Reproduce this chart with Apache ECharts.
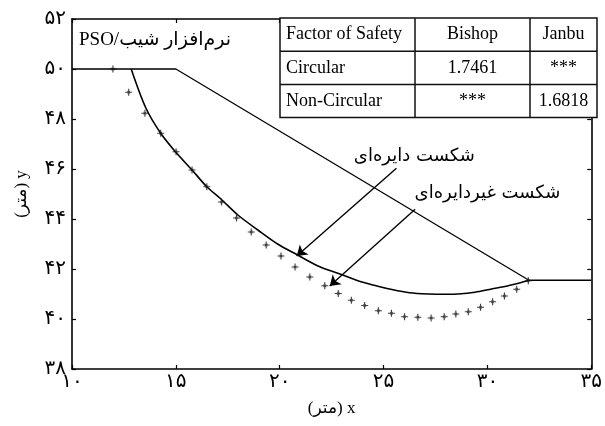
<!DOCTYPE html>
<html>
<head>
<meta charset="utf-8">
<script src="https://cdn.jsdelivr.net/npm/echarts@6/dist/echarts.min.js"></script>
<style>
  html, body { margin: 0; padding: 0; background: #fff; }
  #main { width: 605px; height: 426px; }
</style>
</head>
<body>
<div id="main"></div>
<script>
// Axis ticks (metres)
const xTicks = [10, 15, 20, 25, 30, 35];
const yTicks = [38, 40, 42, 44, 46, 48, 50, 52];

// Slope ground profile: crest, toe, toe berm
const groundX = [10, 15, 32, 35];
const groundY = [50, 50, 41.55, 41.55];

// Critical circular slip surface (Bishop)
const circX = [12.85, 13.55, 14.27, 14.98, 15.78, 16.49, 17.13, 18.0, 18.95, 19.9, 20.86, 21.9, 22.9, 23.8, 24.5, 25.4, 26.25, 27.2, 28.0, 28.6, 29.4, 30.2, 31.0, 31.5, 32.0];
const circY = [50.0, 48.45, 47.43, 46.69, 45.96, 45.29, 44.83, 44.15, 43.56, 43.0, 42.56, 42.1, 41.8, 41.52, 41.36, 41.18, 41.05, 41.0, 40.99, 41.0, 41.07, 41.2, 41.33, 41.43, 41.55];

// Critical non-circular slip surface (Janbu), PSO search points
const nonCircX = [11.97, 12.73, 13.51, 14.27, 15.01, 15.78, 16.49, 17.2, 17.92, 18.63, 19.35, 20.06, 20.74, 21.45, 22.17, 22.82, 23.45, 24.09, 24.75, 25.38, 26.01, 26.65, 27.29, 27.92, 28.48, 29.08, 29.67, 30.25, 30.82, 31.41, 31.97];
const nonCircY = [50.0, 49.07, 48.23, 47.43, 46.69, 45.96, 45.29, 44.68, 44.04, 43.48, 42.96, 42.52, 42.08, 41.68, 41.33, 41.02, 40.75, 40.54, 40.33, 40.23, 40.09, 40.07, 40.04, 40.09, 40.2, 40.29, 40.47, 40.69, 40.92, 41.19, 41.53];

// Factor of safety summary
const tableHeader = ['Factor of Safety', 'Bishop', 'Janbu'];
const tableRows = [
  ['Circular', '1.7461', '***'],
  ['Non-Circular', '***', '1.6818']
];

const titleText = 'PSO/نرم\u200cافزار شیب';
const circLabel = 'شکست دایره\u200cای';
const nonCircLabel = 'شکست غیردایره\u200cای';
const xName = '(متر) x';
const yName = '(متر) y';

const persianDigits = '۰۱۲۳۴۵۶۷۸۹';
function toPersian(n) {
  return String(n).replace(/\d/g, d => persianDigits[+d]);
}

const zip = (xs, ys) => xs.map((x, i) => [x, ys[i]]);

const chart = echarts.init(document.getElementById('main'), null, { renderer: 'canvas' });

const LATIN = 'Liberation Serif';
const FA = 'DejaVu Sans';
const axisLineStyle = { color: '#000', width: 1.6 };

function baseAxis(ticks) {
  return {
    type: 'value',
    min: ticks[0],
    max: ticks[ticks.length - 1],
    interval: ticks[1] - ticks[0],
    splitLine: { show: false },
    axisLine: { show: true, onZero: false, lineStyle: axisLineStyle },
    axisTick: { show: true, inside: true, length: 4, lineStyle: { color: '#000', width: 1.2 } }
  };
}

// Table geometry (pixels)
const tbl = { left: 280, top: 18, colW: [135, 115, 67], rowH: 33.2 };
function tableGraphics() {
  const els = [];
  const totalW = tbl.colW.reduce((a, b) => a + b, 0);
  const rows = [tableHeader].concat(tableRows);
  const totalH = tbl.rowH * rows.length;
  els.push({ type: 'rect', shape: { x: tbl.left, y: tbl.top, width: totalW, height: totalH },
    style: { fill: '#fff', stroke: '#111', lineWidth: 1.5 }, z: 100 });
  for (let r = 1; r < rows.length; r++) {
    const y = tbl.top + r * tbl.rowH;
    els.push({ type: 'line', shape: { x1: tbl.left, y1: y, x2: tbl.left + totalW, y2: y },
      style: { stroke: '#111', lineWidth: 1.5 }, z: 101 });
  }
  let cx = tbl.left;
  for (let c = 0; c < tbl.colW.length - 1; c++) {
    cx += tbl.colW[c];
    els.push({ type: 'line', shape: { x1: cx, y1: tbl.top, x2: cx, y2: tbl.top + totalH },
      style: { stroke: '#111', lineWidth: 1.5 }, z: 101 });
  }
  rows.forEach((row, r) => {
    const yMid = tbl.top + (r + 0.5) * tbl.rowH;
    let x0 = tbl.left;
    row.forEach((cell, c) => {
      const w = tbl.colW[c];
      let x, align;
      if (c === 0) { x = x0 + 6; align = 'left'; }
      else { x = x0 + w / 2; align = 'center'; }
      els.push({ type: 'text', z: 102,
        style: { text: cell, x: x, y: yMid, align: align, verticalAlign: 'middle',
          font: '18px "' + LATIN + '"', fill: '#000' } });
      x0 += w;
    });
  });
  return els;
}

const option = {
  animation: false,
  backgroundColor: '#fff',
  grid: { left: 72, right: 8, top: 19, bottom: 57, containLabel: false },
  xAxis: [
    Object.assign(baseAxis(xTicks), {
      position: 'bottom',
      axisLabel: { formatter: v => toPersian(v), fontSize: 20, color: '#000', fontFamily: FA, margin: 3 },
      name: xName, nameLocation: 'middle', nameGap: 40,
      nameTextStyle: { fontSize: 17, color: '#000', fontFamily: LATIN + ', ' + FA, verticalAlign: 'middle' }
    }),
    Object.assign(baseAxis(xTicks), { position: 'top', axisLabel: { show: false } })
  ],
  yAxis: [
    Object.assign(baseAxis(yTicks), {
      position: 'left',
      axisLabel: { formatter: v => toPersian(v), fontSize: 20, color: '#000', fontFamily: FA, margin: 6 },
      name: yName, nameLocation: 'middle', nameGap: 50, nameRotate: 90,
      nameTextStyle: { fontSize: 17, color: '#000', fontFamily: LATIN + ', ' + FA, verticalAlign: 'middle' }
    }),
    Object.assign(baseAxis(yTicks), { position: 'right', axisLabel: { show: false } })
  ],
  series: [
    {
      name: 'ground', type: 'line', data: zip(groundX, groundY),
      symbol: 'none', lineStyle: { color: '#000', width: 1.3 }, z: 3
    },
    {
      name: 'circular', type: 'line', data: zip(circX, circY),
      symbol: 'none', smooth: 0.3, lineStyle: { color: '#000', width: 1.6 }, z: 4,
      markLine: {
        silent: true, symbol: ['none', 'arrow'], symbolSize: 10,
        lineStyle: { color: '#000', width: 1.4, type: 'solid' },
        label: { show: false },
        data: [
          [{ coord: [25.62, 46.03] }, { coord: [20.82, 42.52] }],
          [{ coord: [26.52, 44.39] }, { coord: [22.41, 41.32] }]
        ]
      },
      markPoint: {
        silent: true, symbol: 'circle', symbolSize: 0,
        label: { show: true, position: 'inside', formatter: p => p.name, fontSize: 18, color: '#000', fontFamily: FA },
        data: [
          { name: circLabel, coord: [26.48, 46.52] },
          { name: nonCircLabel, coord: [30.0, 45.04] }
        ]
      }
    },
    {
      name: 'non-circular', type: 'scatter', data: zip(nonCircX, nonCircY),
      symbol: 'path://M-0.8,-5 L0.8,-5 L0.8,-1.6 L2.4,-2.4 L1.6,-0.8 L5,-0.8 L5,0.8 L1.6,0.8 L2.4,2.4 L0.8,1.6 L0.8,5 L-0.8,5 L-0.8,1.6 L-2.4,2.4 L-1.6,0.8 L-5,0.8 L-5,-0.8 L-1.6,-0.8 L-2.4,-2.4 L-0.8,-1.6 Z',
      symbolSize: 7, itemStyle: { color: '#111' }, z: 5
    }
  ],
  graphic: [
    { type: 'text', z: 100,
      style: { text: titleText, x: 79, y: 40, align: 'left', verticalAlign: 'middle',
        font: '19px "' + LATIN + '", "' + FA + '"', fill: '#000' } }
  ].concat(tableGraphics())
};

chart.setOption(option);
</script>
</body>
</html>
